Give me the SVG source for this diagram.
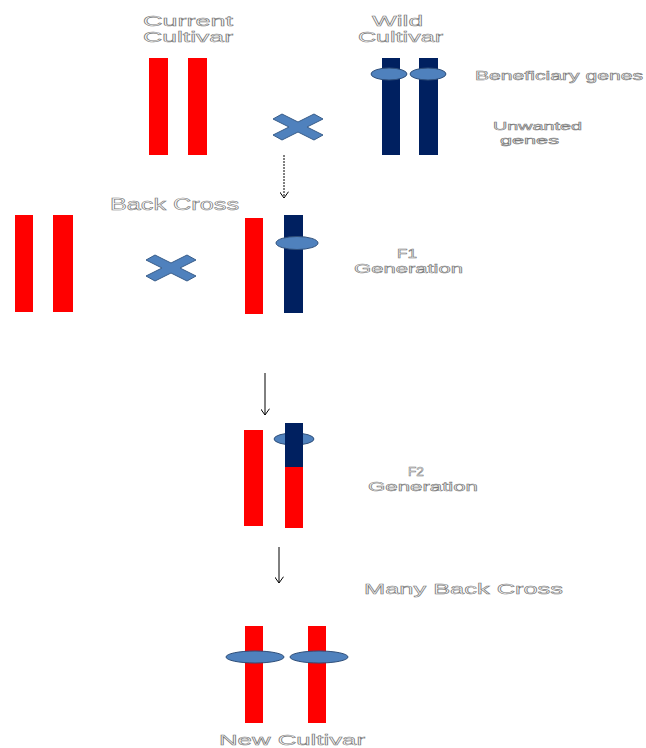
<svg xmlns="http://www.w3.org/2000/svg" width="646" height="748" viewBox="0 0 646 748">
<style>
.r{fill:#ff0000}
.b{fill:#002060}
.g{fill:#4f81bd;stroke:#2f4f7a;stroke-width:1}
.x{fill:#4f81bd;stroke:#385d8a;stroke-width:1}
.t{font-family:"Liberation Sans",Arial,sans-serif;fill:#fff;stroke:#7a7a7a;stroke-width:0.55}
.c{stroke:#000;stroke-width:1;fill:none}
</style>
<defs>
<marker id="ah" viewBox="0 0 10 10" refX="9" refY="5" markerWidth="9" markerHeight="9" markerUnits="userSpaceOnUse" orient="auto">
<path d="M2,0 L9,5 L2,10" fill="none" stroke="#000" stroke-width="1.1"/>
</marker>
<polygon id="cross" points="-25,-8 -16,-13 0,-5 16,-13 25,-8 9,0 25,8 16,13 0,5 -16,13 -25,8 -9,0"/>
</defs>
<rect width="646" height="748" fill="#fff"/>

<g id="current-cultivar">
<rect class="r" x="149" y="58" width="19" height="97"/>
<rect class="r" x="188" y="58" width="19" height="97"/>
<text class="t" x="143" y="26" font-size="15" textLength="90" lengthAdjust="spacingAndGlyphs">Current</text>
<text class="t" x="143" y="42" font-size="15" textLength="90" lengthAdjust="spacingAndGlyphs">Cultivar</text>
</g>

<g id="wild-cultivar">
<rect class="b" x="382" y="58" width="18" height="97"/>
<rect class="b" x="419" y="58" width="19" height="97"/>
<ellipse class="g" cx="389" cy="74" rx="18" ry="6"/>
<ellipse class="g" cx="428" cy="74" rx="18" ry="6"/>
<text class="t" x="372" y="26" font-size="15" textLength="51" lengthAdjust="spacingAndGlyphs">Wild</text>
<text class="t" x="358" y="42" font-size="15" textLength="85" lengthAdjust="spacingAndGlyphs">Cultivar</text>
</g>

<g id="beneficiary-label">
<text class="t" x="475" y="80" font-size="12.5" textLength="168" lengthAdjust="spacingAndGlyphs">Beneficiary genes</text>
</g>
<g id="unwanted-label">
<text class="t" x="493" y="130" font-size="11.5" textLength="89" lengthAdjust="spacingAndGlyphs">Unwanted</text>
<text class="t" x="500" y="144" font-size="11.5" textLength="59" lengthAdjust="spacingAndGlyphs">genes</text>
</g>

<g id="cross1"><use href="#cross" class="x" transform="translate(298,127)"/></g>

<g id="backcross-label">
<text class="t" x="110" y="210" font-size="16" textLength="129" lengthAdjust="spacingAndGlyphs">Back Cross</text>
</g>

<g id="recurrent-parent">
<rect class="r" x="15" y="215" width="18" height="97"/>
<rect class="r" x="53" y="215" width="20" height="97"/>
</g>

<g id="cross2"><use href="#cross" class="x" transform="translate(171,268)"/></g>

<g id="f1">
<rect class="r" x="245" y="218" width="18" height="96"/>
<rect class="b" x="284" y="215" width="19" height="98"/>
<ellipse class="g" cx="297" cy="243" rx="21" ry="6.5"/>
<text class="t" x="397" y="258" font-size="12" textLength="20" lengthAdjust="spacingAndGlyphs">F1</text>
<text class="t" x="354" y="273" font-size="13" textLength="109" lengthAdjust="spacingAndGlyphs">Generation</text>
</g>

<g id="f2">
<rect class="r" x="244" y="430" width="19" height="96"/>
<ellipse class="g" cx="294" cy="439" rx="20" ry="6"/>
<rect class="b" x="285" y="423" width="18" height="44"/>
<rect class="r" x="285" y="467" width="18" height="61"/>
<text class="t" x="408" y="476" font-size="12" textLength="16" lengthAdjust="spacingAndGlyphs">F2</text>
<text class="t" x="368" y="491" font-size="13" textLength="110" lengthAdjust="spacingAndGlyphs">Generation</text>
</g>

<g id="many-backcross-label">
<text class="t" x="364" y="594" font-size="15" textLength="199" lengthAdjust="spacingAndGlyphs">Many Back Cross</text>
</g>

<g id="new-cultivar">
<rect class="r" x="245" y="626" width="18" height="97"/>
<rect class="r" x="308" y="626" width="18" height="97"/>
<ellipse class="g" cx="255" cy="657" rx="29" ry="6"/>
<ellipse class="g" cx="319" cy="657" rx="29" ry="6"/>
<text class="t" x="219" y="745" font-size="15" textLength="146" lengthAdjust="spacingAndGlyphs">New Cultivar</text>
</g>

<g id="connectors">
<line class="c" x1="284" y1="155" x2="284" y2="198" stroke-dasharray="2,1" marker-end="url(#ah)"/>
<line class="c" x1="265" y1="373" x2="265" y2="415" marker-end="url(#ah)"/>
<line class="c" x1="279" y1="547" x2="279" y2="583" marker-end="url(#ah)"/>
</g>
</svg>
